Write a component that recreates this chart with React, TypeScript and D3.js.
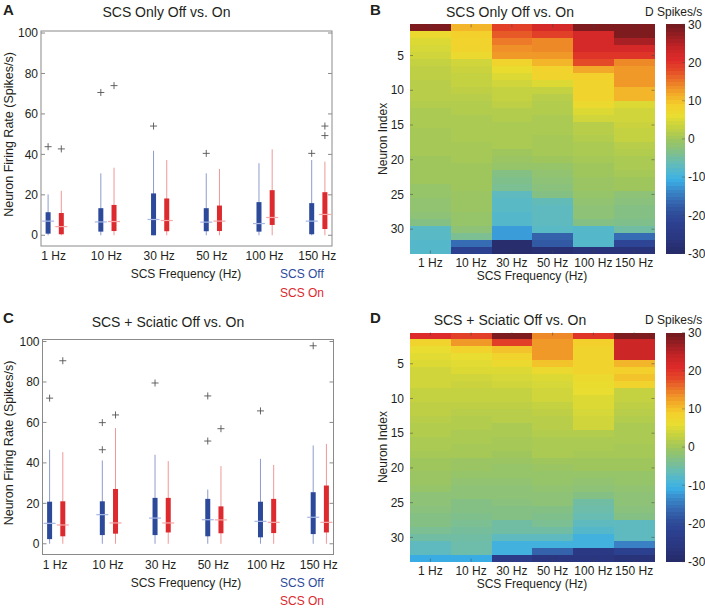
import React from "react";
import * as d3 from "d3";

// ---------- data ----------
const freqLabels = ["1 Hz", "10 Hz", "30 Hz", "50 Hz", "100 Hz", "150 Hz"];
const yTicksBox = [0, 20, 40, 60, 80, 100];
const yTicksHeat = [5, 10, 15, 20, 25, 30];
const cbarTicks = [30, 20, 10, 0, -10, -20, -30];

// Panel A: SCS only
const aOffLo = [0, 0, 0, 0, 0, 0];
const aOffQ1 = [0.8, 1.8, 0, 2, 1.8, 0.5];
const aOffMed = [7, 6.6, 7.8, 6.5, 5.8, 7];
const aOffQ3 = [11.4, 13.4, 20.7, 13.4, 16.4, 15.9];
const aOffHi = [20.2, 30.6, 41.8, 30.6, 35.6, 37.2];
const aOffOut = [[43.8], [70.6], [54], [40.5], [], [40.5]];

const aOnLo = [0, 0, 0, 0, 0, 0];
const aOnQ1 = [0.5, 2.1, 2, 2.1, 5.1, 3.1];
const aOnMed = [4.3, 6.8, 7.3, 7, 8.8, 10.3];
const aOnQ3 = [11, 15, 18.2, 14.7, 22.3, 21.3];
const aOnHi = [22, 33.4, 37.2, 32.8, 42.5, 36.4];
const aOnOut = [[42.7], [74], [], [], [], [54, 49.3]];

// Panel C: SCS + sciatic
const cOffLo = [0, 0, 0, 0, 0, 0];
const cOffQ1 = [2.3, 4.3, 4.3, 3.7, 3.2, 4.8];
const cOffMed = [10.1, 14.4, 12.7, 11.9, 11.1, 13.1];
const cOffQ3 = [20.8, 21, 22.7, 22.2, 20.8, 25.5];
const cOffHi = [46.5, 41.2, 44, 26.8, 42, 48.6];
const cOffOut = [[72], [59.9, 46.5], [79.5], [73.1, 50.8], [65.7], [97.9]];

const cOnLo = [0, 0, 0, 0, 0, 0];
const cOnQ1 = [3.7, 5, 5.6, 5.2, 5.3, 5.6];
const cOnMed = [9.3, 10.3, 10.3, 11.8, 10.6, 10.6];
const cOnQ3 = [21, 27.1, 22.7, 18.5, 22.2, 28.8];
const cOnHi = [45.3, 57.2, 40.9, 38.4, 39, 49.4];
const cOnOut = [[90.5], [63.7], [], [56.9], [], []];

// Panel B heatmap (Δ spikes/s), neuron 1..33 per frequency
const heatB1 = [29, 7, 5, 4.5, 4, 3, 2.5, 2.5, 2, 2, 2, 1.5, 1, 1, 1, 0.5, 0.5, 0.5, 0.5, 0, 0, 0, 0, -1, -1, -1.5, -1.5, -2, -3, -7.5, -7.5, -8, -8];
const heatB10 = [11, 9, 8.5, 8, 7, 4, 3.5, 3, 3, 2.5, 2, 1.5, 1.5, 1, 1, 1, 1, 0.5, 0.5, 0.5, 0, 0, 0, 0, -0.5, -0.5, -0.5, -1, -1, -2, -4, -16, -22];
const heatB30 = [19, 17, 15, 13.5, 13, 8, 6.5, 5, 4, 3, 3, 2.5, 1.5, 1.5, 1, 1, 1, 1, 0, -0.5, -1, -3, -3.5, -4, -7, -7.5, -7.5, -8, -8, -12, -12, -29, -29];
const heatB50 = [22, 19, 14, 14, 13, 11, 8.5, 8, 5, 3, 2, 1.5, 1.5, 1, 1, 1, 0.5, 0.5, 0.5, 0, -1, -1.5, -2, -2.5, -3, -6.5, -7, -7, -7, -7.5, -17, -18, -28];
const heatB100 = [29, 22, 22, 22, 20, 18, 12, 9, 8, 8, 8, 7, 5, 4, 2, 2, 1.5, 1, 1, 0.5, 0, 0, -0.5, -0.5, -1, -1.5, -2, -2, -3, -8, -8, -8, -27];
const heatB150 = [29, 29, 26, 22, 20, 14, 13, 13, 13, 11, 11, 5, 4, 4, 3.5, 3, 3, 2, 1.5, 1, 1, 0.5, 0, 0, -2, -2.5, -3, -3, -3.5, -5, -16, -21, -27];

// Panel D heatmap
const heatD1 = [21, 8, 6, 5.5, 5, 4, 4, 4, 3, 3, 2.5, 2.5, 2, 1.5, 1.5, 1, 1, 0.5, 0, 0, -0.5, -0.5, -1, -2, -2, -2.5, -3, -3, -4, -5, -7, -7, -11];
const heatD10 = [19, 13, 8.5, 6, 5.5, 5, 4, 3.5, 3, 3, 2.5, 2, 1.5, 1.5, 1, 1, 0.5, 0.5, -0.5, -0.5, -1, -1.5, -2, -2, -3, -3, -3.5, -4, -4.5, -5, -5.5, -5.5, -11];
const heatD30 = [29, 19, 10, 8, 7, 5, 4.5, 4, 3, 3, 2.5, 2, 2, 1, 1, 0.5, 0.5, 0, -0.5, -1, -1, -1.5, -2, -2, -2.5, -3, -3, -5, -5, -7, -10, -10, -24];
const heatD50 = [14, 13, 13, 13, 10, 7, 5, 4.5, 4, 4, 3, 2.5, 2, 2, 1.5, 1, 1, 1, 0, -0.5, -1, -1, -1.5, -2, -2, -3, -3.5, -4, -5, -7, -10, -17, -26];
const heatD100 = [20, 9, 8, 8, 8, 8, 7, 6.5, 6, 5, 5, 4.5, 4, 4, 1.5, 1, 1, 0.5, 0, 0, -1, -1.5, -2, -3, -5, -5.5, -6, -7, -8, -10, -10, -25, -26];
const heatD150 = [29, 23, 23, 23, 11, 9, 10, 8, 3, 3, 2.5, 2, 1.5, 1, 1, 1, 0.5, 0.5, 0, 0, -1, -1, -1.5, -2, -2, -2.5, -3, -7, -7, -7, -14, -22, -27];

// colormap stops (jet-like, as printed)
const cmapStops = [-30, -26, -22, -19, -16, -13, -11, -9, -6, -3, 0, 3, 6, 9, 12, 15, 18, 21, 24, 27, 30];
const cmapColors = ["#262a66", "#2a3680", "#2c4090", "#30509c", "#366cb4", "#3a8ccc", "#3aace4", "#4ab6d6", "#68bcb2", "#84c084", "#9fc65c", "#c4d140", "#e8dd30", "#f4d02c", "#f2a828", "#ec7a28", "#e44a28", "#dd2a2a", "#c42426", "#9a1e22", "#6e1a1e"];

// ---------- style ----------
const FONT = "'Liberation Sans', Arial, Helvetica, sans-serif";
const TXT = "#231f20";
const AXC = "#8a8a8a";
const BLUE = "#2d4a9a";
const RED = "#dc2a2e";
const BLUE_W = "#8e9ccc";
const RED_W = "#ef9898";
const BLUE_M = "#a6b6e6";
const RED_M = "#f6a6a6";

const colorScale = d3
  .scaleLinear<string>()
  .domain(cmapStops)
  .range(cmapColors)
  .interpolate(d3.interpolateRgb)
  .clamp(true);

type Stats = { lo: number[]; q1: number[]; med: number[]; q3: number[]; hi: number[]; out: number[][] };

function BoxPanel(props: {
  left: number; right: number; top: number; bottom: number;
  letter: string; letterY: number; title: string; titleY: number;
  off: Stats; on: Stats;
}) {
  const { left, right, top, bottom, off, on } = props;
  const y = d3.scaleLinear().domain([-5.3, 101]).range([bottom, top]);
  const x = d3.scaleLinear().domain([-0.26, 5.26]).range([left, right]);
  const dx = 6.6;
  const boxW = 5;
  const series = [
    { s: off, sh: -dx, c: BLUE, w: BLUE_W, m: BLUE_M },
    { s: on, sh: dx, c: RED, w: RED_W, m: RED_M },
  ];
  const midX = (left + right) / 2;
  return (
    <g>
      <text x={3} y={props.letterY} fontSize={15} fontWeight="bold" fill={TXT}>{props.letter}</text>
      <text x={midX - 20} y={props.titleY} fontSize={14} textAnchor="middle" fill={TXT}>{props.title}</text>
      <rect x={left} y={top} width={right - left} height={bottom - top} fill="white" stroke={AXC} strokeWidth={1} />
      {yTicksBox.map((t) => (
        <g key={t}>
          <line x1={left} x2={left + 4} y1={y(t)} y2={y(t)} stroke={AXC} />
          <line x1={right} x2={right - 4} y1={y(t)} y2={y(t)} stroke={AXC} />
          <text x={left - 3} y={y(t)} dy="0.35em" fontSize={12} textAnchor="end" fill={TXT}>{t}</text>
        </g>
      ))}
      {freqLabels.map((f, i) => (
        <g key={f}>
          {series.map((sr, k) => {
            const cx = x(i) + sr.sh;
            return (
              <g key={k}>
                <line x1={cx} x2={cx} y1={y(sr.s.lo[i])} y2={y(sr.s.hi[i])} stroke={sr.w} strokeWidth={1} />
                <rect x={cx - boxW / 2} y={y(sr.s.q3[i])} width={boxW} height={y(sr.s.q1[i]) - y(sr.s.q3[i])} fill={sr.c} />
                <line x1={cx - 6} x2={cx + 6} y1={y(sr.s.med[i])} y2={y(sr.s.med[i])} stroke={sr.m} strokeWidth={1.2} />
                {sr.s.out[i].map((o, j) => (
                  <g key={j} stroke="#555" strokeWidth={0.9}>
                    <line x1={cx - 3.5} x2={cx + 3.5} y1={y(o)} y2={y(o)} />
                    <line x1={cx} x2={cx} y1={y(o) - 3.5} y2={y(o) + 3.5} />
                  </g>
                ))}
              </g>
            );
          })}
          <text x={x(i) - 1} y={bottom + 14} fontSize={12} textAnchor="middle" fill={TXT}>{f}</text>
        </g>
      ))}
      <text x={186} y={bottom + 32} fontSize={12} textAnchor="middle" fill={TXT}>SCS Frequency (Hz)</text>
      <text x={280} y={bottom + 32} fontSize={12} fill={BLUE}>SCS Off</text>
      <text x={280} y={bottom + 50.5} fontSize={12} fill={RED}>SCS On</text>
      <text transform={`translate(13,${(top + bottom) / 2 - 4}) rotate(-90)`} fontSize={12.5} textAnchor="middle" fill={TXT}>
        Neuron Firing Rate (Spikes/s)
      </text>
    </g>
  );
}

function HeatPanel(props: {
  top: number; bottom: number; letter: string; letterY: number; title: string; titleY: number; cols: number[][];
}) {
  const { top, bottom, cols } = props;
  const left = 410;
  const right = 654.5;
  const x = d3.scaleBand<string>().domain(freqLabels).range([left, right]);
  const y = d3.scaleLinear().domain([0.5, 33.5]).range([top, bottom]);
  const cbX = 666;
  const cbW = 19;
  const cy = d3.scaleLinear().domain([-30, 30]).range([bottom, top]);
  const nBands = 64;
  const bandVals = d3.range(nBands).map((i) => -30 + (60 * (i + 0.5)) / nBands);
  const bandH = (bottom - top) / nBands;
  return (
    <g>
      <text x={370} y={props.letterY} fontSize={15} fontWeight="bold" fill={TXT}>{props.letter}</text>
      <text x={510} y={props.titleY} fontSize={14} textAnchor="middle" fill={TXT}>{props.title}</text>
      <text x={645} y={props.titleY - 1} fontSize={12} fill={TXT}>D Spikes/s</text>
      <g shapeRendering="crispEdges">
        {cols.map((col, ci) =>
          col.map((v, ri) => (
            <rect
              key={`${ci}-${ri}`}
              x={x(freqLabels[ci])!}
              y={y(ri + 0.5)}
              width={x.bandwidth() + 0.5}
              height={y(ri + 1.5) - y(ri + 0.5) + 0.5}
              fill={colorScale(v)}
            />
          ))
        )}
      </g>
      {yTicksHeat.map((t) => (
        <g key={t}>
          <line x1={left} x2={left + 3} y1={y(t)} y2={y(t)} stroke="#444" strokeOpacity={0.5} />
          <line x1={right} x2={right - 3} y1={y(t)} y2={y(t)} stroke="#444" strokeOpacity={0.5} />
          <text x={404} y={y(t)} dy="0.35em" fontSize={12} textAnchor="end" fill={TXT}>{t}</text>
        </g>
      ))}
      {freqLabels.map((f) => (
        <g key={f}>
          <line x1={x(f)! + x.bandwidth() / 2} x2={x(f)! + x.bandwidth() / 2} y1={top} y2={top + 3} stroke="#444" strokeOpacity={0.5} />
          <line x1={x(f)! + x.bandwidth() / 2} x2={x(f)! + x.bandwidth() / 2} y1={bottom} y2={bottom - 3} stroke="#444" strokeOpacity={0.5} />
          <text x={x(f)! + x.bandwidth() / 2} y={bottom + 13} fontSize={12} textAnchor="middle" fill={TXT}>{f}</text>
        </g>
      ))}
      <text x={532} y={bottom + 26.5} fontSize={12} textAnchor="middle" fill={TXT}>SCS Frequency (Hz)</text>
      <text transform={`translate(387,${(top + bottom) / 2}) rotate(-90)`} fontSize={12} textAnchor="middle" fill={TXT}>
        Neuron Index
      </text>
      <g shapeRendering="crispEdges">
        {bandVals.map((v, i) => (
          <rect key={i} x={cbX} y={bottom - (i + 1) * bandH} width={cbW} height={bandH + 0.5} fill={colorScale(v)} />
        ))}
      </g>
      {cbarTicks.map((t) => (
        <g key={t}>
          <line x1={cbX + cbW} x2={cbX + cbW - 3} y1={cy(t)} y2={cy(t)} stroke="#444" strokeOpacity={0.4} />
          <text x={cbX + cbW + 3} y={cy(t)} dy="0.35em" fontSize={12} fill={TXT}>{t}</text>
        </g>
      ))}
    </g>
  );
}

export default function App() {
  const aOff: Stats = { lo: aOffLo, q1: aOffQ1, med: aOffMed, q3: aOffQ3, hi: aOffHi, out: aOffOut };
  const aOn: Stats = { lo: aOnLo, q1: aOnQ1, med: aOnMed, q3: aOnQ3, hi: aOnHi, out: aOnOut };
  const cOff: Stats = { lo: cOffLo, q1: cOffQ1, med: cOffMed, q3: cOffQ3, hi: cOffHi, out: cOffOut };
  const cOn: Stats = { lo: cOnLo, q1: cOnQ1, med: cOnMed, q3: cOnQ3, hi: cOnHi, out: cOnOut };
  return (
    <svg
      width={705}
      height={610}
      viewBox="0 0 705 610"
      style={{ position: "absolute", left: 0, top: 0, background: "white", fontFamily: FONT }}
    >
      <rect width={705} height={610} fill="white" />
      <BoxPanel left={41} right={332} top={31} bottom={246} letter="A" letterY={15} title="SCS Only Off vs. On" titleY={16.5} off={aOff} on={aOn} />
      <BoxPanel left={42.5} right={333.5} top={339.5} bottom={554.5} letter="C" letterY={323} title="SCS + Sciatic Off vs. On" titleY={326.5} off={cOff} on={cOn} />
      <HeatPanel top={24.3} bottom={253.5} letter="B" letterY={15} title="SCS Only Off vs. On" titleY={17} cols={[heatB1, heatB10, heatB30, heatB50, heatB100, heatB150]} />
      <HeatPanel top={332.5} bottom={561.7} letter="D" letterY={323} title="SCS + Sciatic Off vs. On" titleY={325} cols={[heatD1, heatD10, heatD30, heatD50, heatD100, heatD150]} />
    </svg>
  );
}
